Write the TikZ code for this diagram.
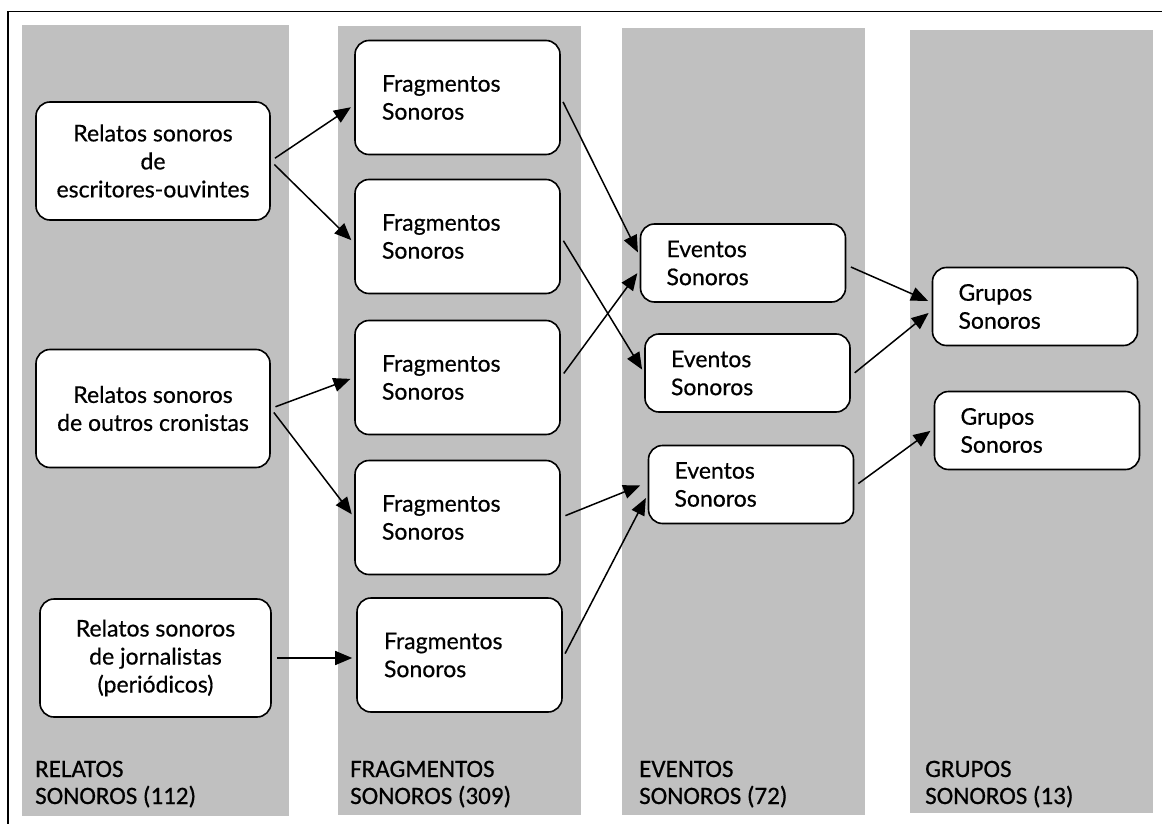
\documentclass[tikz,border=0pt]{standalone}
\usepackage{fontspec}
\setmainfont{Lato}[FakeBold=0.5]
\newfontfamily\capfont{Carlito}[FakeBold=0.6]
\usetikzlibrary{arrows.meta}
\definecolor{colgray}{RGB}{192,192,192}

\begin{document}
\begin{tikzpicture}[x=1pt,y=-1pt]
  % Base settings
  \tikzset{
    mycol/.style={fill=colgray, draw=none},
    mybox/.style={draw, line width=1.6pt, fill=white, rounded corners=14pt,
      font=\fontsize{23}{28}\selectfont},
    relbox/.style={mybox, align=center, minimum width=234pt, minimum height=118pt},
    fragbox/.style={mybox, align=left, inner xsep=27pt, text width=151pt, minimum height=114pt},
    evbox/.style={mybox, align=left, inner xsep=26pt, text width=153pt, minimum height=78pt},
    mylabel/.style={anchor=base west, align=left, inner sep=0pt,
      font=\capfont\fontsize{25}{27}\selectfont},
    myarrow/.style={line width=1.5pt, -{Triangle[length=17pt,width=14pt]},
      shorten <=5pt, shorten >=4pt}
  }

  \useasboundingbox (0,0) rectangle (1162,824);

  % --- Frame and columns ---
  \draw[line width=1.6pt] (8,11.5) rectangle (1175,840);
  \fill[mycol] (22,25) rectangle (289,816);
  \fill[mycol] (338,26) rectangle (581,815);
  \fill[mycol] (622,28) rectangle (865,815);
  \fill[mycol] (910,30) rectangle (1153,813);

  % --- Relatos ---
  \node[relbox] (r1) at (153,161) {Relatos sonoros\\de\\escritores-ouvintes};
  \node[relbox] (r2) at (153,408.5) {Relatos sonoros\\de outros cronistas};
  \node[relbox, minimum width=231pt] (r3) at (155.5,658) {Relatos sonoros\\de jornalistas\\(periódicos)};

  % --- Fragmentos ---
  \node[fragbox] (f1) at (457.5,97.5) {Fragmentos\\Sonoros};
  \node[fragbox] (f2) at (457.5,236.5) {Fragmentos\\Sonoros};
  \node[fragbox] (f3) at (457.5,377.5) {Fragmentos\\Sonoros};
  \node[fragbox] (f4) at (457.5,517.5) {Fragmentos\\Sonoros};
  \node[fragbox] (f5) at (459.5,655) {Fragmentos\\Sonoros};

  % --- Eventos ---
  \node[evbox] (e1) at (743,263) {Eventos\\Sonoros};
  \node[evbox] (e2) at (747.5,373) {Eventos\\Sonoros};
  \node[evbox] (e3) at (751,484.5) {Eventos\\Sonoros};

  % --- Grupos ---
  \node[evbox] (g1) at (1035,306.5) {Grupos\\Sonoros};
  \node[evbox] (g2) at (1037,430.5) {Grupos\\Sonoros};

  % --- Arrows ---
  \draw[myarrow] (r1.east) -- ([yshift=-7.5pt]f1.west);
  \draw[myarrow] (r1.east) -- ([yshift=-6.5pt]f2.west);
  \draw[myarrow] (r2.east) -- (f3.west);
  \draw[myarrow] (r2.east) -- (f4.west);
  \draw[myarrow] (r3.east) -- (r3.east -| f5.west);

  \draw[myarrow] (f1.east) -- ([yshift=7pt]e1.west);
  \draw[myarrow] (f3.east) -- ([yshift=-7pt]e1.west);
  \draw[myarrow] (f2.east) -- (e2.west);
  \draw[myarrow, shorten >=8pt] (f4.east) -- ([yshift=2pt]e3.west);
  \draw[myarrow] ([yshift=-3pt]f5.east) -- ([yshift=-10pt]e3.west);

  \draw[myarrow] ([yshift=-2pt]e1.east) -- ([yshift=4pt]g1.west);
  \draw[myarrow] ([yshift=-3pt]e2.east) -- ([yshift=-4pt]g1.west);
  \draw[myarrow] ([yshift=-2pt]e3.east) -- ([yshift=2pt]g2.west);

  % --- Labels ---
  \node[mylabel] (l1) at (35,804) {RELATOS\\SONOROS (112)};
  \node[mylabel] (l2) at (350,804) {FRAGMENTOS\\SONOROS (309)};
  \node[mylabel] (l3) at (639,804) {EVENTOS\\SONOROS (72)};
  \node[mylabel] (l4) at (925,804) {GRUPOS\\SONOROS (13)};

\end{tikzpicture}
\end{document}
